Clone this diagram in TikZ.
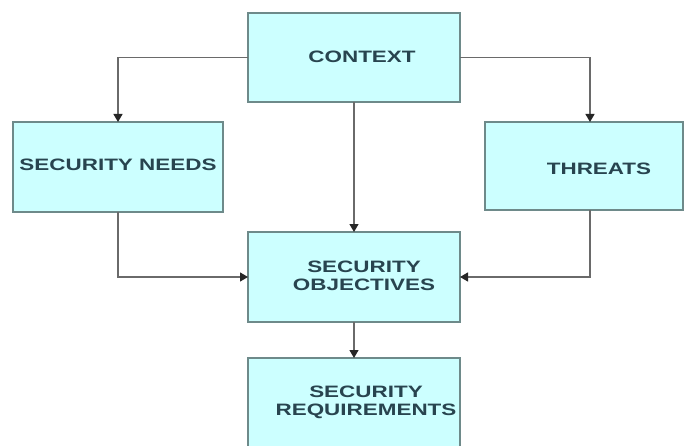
\documentclass[tikz,border=0pt]{standalone}
\usepackage{fontspec}
\setmainfont{Liberation Sans}
\usetikzlibrary{arrows.meta}
\definecolor{boxfill}{HTML}{CCFFFF}
\definecolor{boxline}{HTML}{6E8A8A}
\definecolor{txtcol}{HTML}{28444F}
\definecolor{linecol}{HTML}{6A6A6A}
\begin{document}
\begin{tikzpicture}[x=1pt,y=-1pt,
  box/.style={draw=boxline,fill=boxfill,line width=1.8pt,inner sep=0pt,outer sep=0pt},
  lbl/.style={text=txtcol,font=\fontsize{16.5}{18}\selectfont\bfseries,align=center,inner sep=0pt},
  conn/.style={draw=linecol,line width=1.2pt,-{Triangle[width=9pt,length=8pt,color=black!85]}}]
\clip (0,0) rectangle (684,446);
\fill[white] (0,0) rectangle (684,446);
% boxes
\node[box,minimum width=212pt,minimum height=89pt] (ctx) at (354,57.5) {};
\node[box,minimum width=210pt,minimum height=90pt] (needs) at (118,167) {};
\node[box,minimum width=198pt,minimum height=88pt] (thr) at (584,166) {};
\node[box,minimum width=212pt,minimum height=90pt] (obj) at (354,277) {};
\node[box,minimum width=212pt,minimum height=100pt] (req) at (354,408) {};
% texts
\node[lbl] (tctx) at (362,57) {\scalebox{1.36}[1]{CONTEXT}};
\node[lbl] (tneeds) at (118,165) {\scalebox{1.36}[1]{SECURITY NEEDS}};
\node[lbl] (tthr) at (599,169) {\scalebox{1.36}[1]{THREATS}};
\node[lbl] (tobj) at (364,276) {\scalebox{1.36}[1]{SECURITY}\\\scalebox{1.36}[1]{OBJECTIVES}};
\node[lbl] (treq) at (366,402) {\scalebox{1.36}[1]{SECURITY}\\\scalebox{1.36}[1]{REQUIREMENTS}};
% connectors
\coordinate (thrtop) at ([xshift=6pt]thr.north);
\coordinate (thrbot) at ([xshift=6pt]thr.south);
\draw[conn] (ctx.west) -| (needs.north);
\draw[conn] (ctx.east) -| (thrtop);
\draw[conn] (ctx.south) -- (obj.north);
\draw[conn] (needs.south) |- (obj.west);
\draw[conn] (thrbot) |- (obj.east);
\draw[conn] (obj.south) -- (req.north);
\end{tikzpicture}
\end{document}
